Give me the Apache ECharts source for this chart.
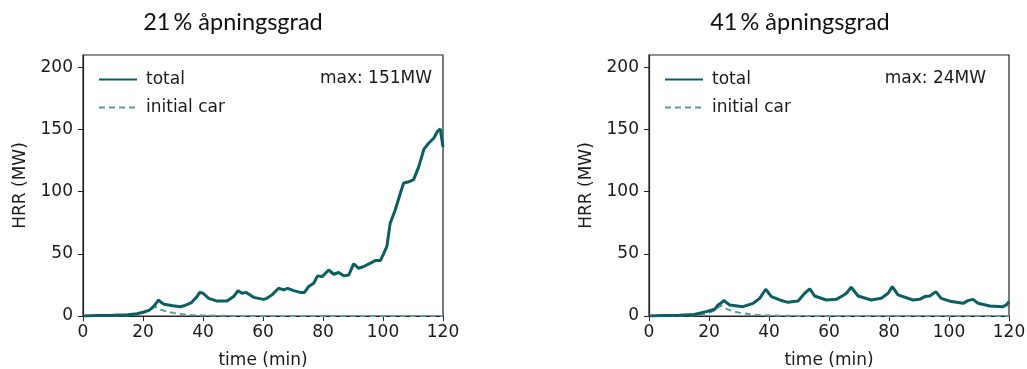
<!DOCTYPE html>
<html>
<head>
<meta charset="utf-8">
<script src="https://cdn.jsdelivr.net/npm/echarts@6/dist/echarts.min.js"></script>
<style>
  html, body { margin: 0; padding: 0; background: #fff; }
  #chart { width: 1027px; height: 369px; }
</style>
</head>
<body>
<div id="chart"></div>
<script>
// panel titles and max labels
const panelTitles = ['21\u2009% åpningsgrad', '41\u2009% åpningsgrad']
const maxLabels = ['max: 151MW', 'max: 24MW']
const yTicks = [0, 50, 100, 150, 200]
const xTicks = [0, 20, 40, 60, 80, 100, 120]

// 21 % - total HRR (MW) vs time (min)
const timeTotalA = [0, 5, 10, 15, 18, 20, 22, 23, 24, 25.2, 26, 27, 30, 32.4, 34, 36, 38, 38.9, 40, 41.9,
  44.7, 48, 50.2, 51.7, 53, 54.4, 56.9, 60.2, 61.3, 63, 65.2, 66.9, 68.2, 70.2, 72.4, 73.8, 75.2, 76.9, 78.2, 79.7,
  81.9, 83.6, 85.2, 86.9, 88.6, 90.2, 91.9, 93.6, 95.8, 97.4, 99.1, 100, 101.3, 102.4, 104.1, 105.8, 106.9, 108.6, 110.2, 111.9,
  113.6, 115.2, 116.9, 118.2, 119.1, 120]
const hrrTotalA = [0, 0.5, 0.7, 1, 1.8, 3, 4.5, 6.5, 9, 12.9, 11, 9.5, 8.3, 7.5, 8.5, 10.5, 15.6, 19, 18.3, 14.2,
  12, 12, 15.6, 20.4, 18.3, 19, 15, 13.4, 14.2, 17, 22.3, 21, 22.3, 20.4, 19, 19, 23.7, 26.3, 32.3, 31.7,
  37, 33.6, 35, 32.3, 33, 42, 38.4, 39.8, 42.5, 44.6, 44.6, 49, 56, 74.7, 85.5, 99, 107, 108, 109.7, 120,
  134, 139, 143, 148.7, 150.5, 136]

// 21 % - initial car
const timeCarA = [0, 10, 15, 18, 20, 22, 23.8, 25, 26, 28, 30, 33, 36, 40, 45, 50, 60, 120]
const hrrCarA = [0, 0.3, 0.5, 1.2, 2.5, 4.5, 7.5, 6.5, 5, 3.5, 2.5, 1.5, 0.8, 0.4, 0.2, 0.1, 0.05, 0]

// 41 % - total
const timeTotalB = [0, 5, 10, 15, 19.1, 21.9, 23, 23.9, 24.9, 26.9, 31.3, 34.7, 36.9, 38.9, 40.8, 43.6, 46.3, 49.7, 51.9, 53.6,
  55.2, 59.1, 62.4, 64.4, 65.8, 67.4, 69.7, 74.1, 77.4, 79.7, 81.1, 83, 88, 90.2, 91.9, 93.6, 95.6, 97.4, 100.8, 104.7,
  106.3, 108, 109.7, 113.6, 118, 119.1, 120]
const hrrTotalB = [0, 0.5, 0.7, 1.2, 3.5, 5.4, 8.9, 10.2, 12.4, 8.9, 7.5, 10.2, 14.2, 21.5, 15.6, 12.9, 11, 12.1, 18.3, 21.8,
  16.1, 12.9, 13.4, 16.1, 18.3, 23.1, 16.1, 12.9, 14.2, 18.3, 23.7, 17, 12.9, 13.4, 15.6, 16.1, 19.6, 14.2, 11.6, 10.2,
  12.4, 13.4, 10.2, 8.1, 7.5, 8.9, 11.6]

// 41 % - initial car
const timeCarB = [0, 10, 15, 18, 20, 22, 24, 25, 26, 28, 30, 33, 36, 40, 45, 50, 60, 120]
const hrrCarB = [0, 0.3, 0.5, 1.2, 2.5, 4.5, 8.5, 7, 5.5, 3.8, 2.7, 1.6, 0.9, 0.4, 0.2, 0.1, 0.05, 0]

const zip = (xs, ys) => xs.map((x, i) => [x, ys[i]])

const totalColor = '#0a5f63'
const carColor = '#5a9c97'
const tickFont = { fontFamily: 'DejaVu Sans', fontSize: 17, color: '#1a1a1a' }

const chart = echarts.init(document.getElementById('chart'))

const grids = [
  { left: 83, right: 584, top: 55, bottom: 53 },
  { left: 649, right: 18, top: 55, bottom: 53 }
]

const makeX = (gi) => ({
  type: 'value', gridIndex: gi, min: 0, max: 120,
  name: 'time (min)', nameLocation: 'middle', nameGap: 36,
  nameTextStyle: { ...tickFont },
  axisLine: { lineStyle: { color: '#222', width: 1.2 } },
  axisTick: { length: 5, lineStyle: { color: '#222' }, customValues: xTicks },
  axisLabel: { ...tickFont, margin: 8, customValues: xTicks },
  splitLine: { show: false }
})

const makeY = (gi) => ({
  type: 'value', gridIndex: gi, min: 0, max: 210,
  name: 'HRR (MW)', nameLocation: 'middle', nameGap: 54,
  nameTextStyle: { ...tickFont },
  axisLine: { show: true, lineStyle: { color: '#222', width: 1.2 } },
  axisTick: { show: true, length: 5, lineStyle: { color: '#222' }, customValues: yTicks },
  axisLabel: { ...tickFont, margin: 10, customValues: yTicks },
  splitLine: { show: false }
})

const lineSeries = (name, gi, data, color, dashed) => ({
  name, type: 'line', xAxisIndex: gi, yAxisIndex: gi,
  data, symbol: 'none', animation: false,
  lineStyle: { color, width: dashed ? 2 : 3, type: dashed ? [6, 4] : 'solid' },
  itemStyle: { color },
  z: dashed ? 2 : 3
})

const legendFor = (left) => ({
  left, top: 66, orient: 'vertical',
  itemWidth: 38, itemHeight: 14, itemGap: 11,
  data: ['total', 'initial car'],
  itemStyle: { opacity: 0 },
  textStyle: { ...tickFont, padding: [0, 0, 0, 4] }
})

chart.setOption({
  animation: false,
  grid: grids.map(g => ({ ...g, show: true, containLabel: false, outerBoundsMode: 'none', borderColor: '#222', borderWidth: 1.2, backgroundColor: 'transparent' })),
  xAxis: [makeX(0), makeX(1)],
  yAxis: [makeY(0), makeY(1)],
  legend: [legendFor(93), legendFor(659)],
  graphic: [
    { type: 'text', x: 233, y: 22, style: { text: panelTitles[0], font: '23.5px Lato', fill: '#111', align: 'center', verticalAlign: 'middle' } },
    { type: 'text', x: 800, y: 22, style: { text: panelTitles[1], font: '23.5px Lato', fill: '#111', align: 'center', verticalAlign: 'middle' } },
    { type: 'text', x: 432, y: 79, style: { text: maxLabels[0], font: '17px "DejaVu Sans"', fill: '#1a1a1a', align: 'right', verticalAlign: 'middle' } },
    { type: 'text', x: 986, y: 79, style: { text: maxLabels[1], font: '17px "DejaVu Sans"', fill: '#1a1a1a', align: 'right', verticalAlign: 'middle' } }
  ],
  series: [
    lineSeries('initial car', 0, zip(timeCarA, hrrCarA), carColor, true),
    lineSeries('total', 0, zip(timeTotalA, hrrTotalA), totalColor, false),
    lineSeries('initial car', 1, zip(timeCarB, hrrCarB), carColor, true),
    lineSeries('total', 1, zip(timeTotalB, hrrTotalB), totalColor, false)
  ]
})
</script>
</body>
</html>
